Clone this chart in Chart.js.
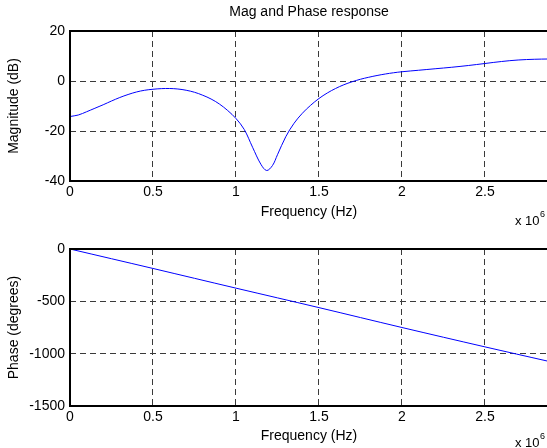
<!DOCTYPE html>
<html>
<head>
<meta charset="utf-8">
<title>Mag and Phase response</title>
<script src="https://cdn.jsdelivr.net/npm/chart.js@4.4.1/dist/chart.umd.min.js"></script>
<style>
  html, body { margin: 0; padding: 0; background: #fff; overflow: hidden; }
  #wrap { position: relative; width: 547px; height: 448px; overflow: hidden; background: #fff; }
  #wrap canvas { position: absolute; left: 0; }
  #magChart { top: 0; }
  #phaseChart { top: 232px; }
</style>
</head>
<body>
<div id="wrap">
  <canvas id="magChart" width="550" height="232"></canvas>
  <canvas id="phaseChart" width="550" height="216"></canvas>
</div>
<script>
// Frequency axis values are in units of 10^6 Hz
const freqMag = [0, 0.05, 0.1, 0.15, 0.2, 0.25, 0.3, 0.35, 0.4, 0.45, 0.5, 0.55, 0.6, 0.65, 0.7,
                 0.75, 0.8, 0.85, 0.9, 0.95, 1.0, 1.05, 1.1, 1.15, 1.185, 1.22, 1.25, 1.3, 1.35,
                 1.4, 1.45, 1.5, 1.55, 1.6, 1.65, 1.7, 1.75, 1.8, 1.85, 1.9, 1.95, 2.0, 2.1, 2.2,
                 2.3, 2.4, 2.5, 2.6, 2.7, 2.8, 2.88];
const magDb   = [-14.2, -13.6, -12.3, -10.9, -9.5, -8.0, -6.6, -5.4, -4.4, -3.7, -3.3, -3.05, -3.0, -3.2, -3.7,
                 -4.5, -5.7, -7.2, -9.2, -11.8, -15.0, -19.4, -26.5, -33.3, -35.8, -33.8, -29.5, -22.3, -16.9,
                 -12.9, -9.7, -7.0, -4.8, -3.0, -1.5, -0.3, 0.7, 1.5, 2.2, 2.8, 3.3, 3.7, 4.3, 4.9,
                 5.5, 6.2, 7.0, 7.8, 8.4, 8.7, 8.8];

const freqPhase = [0, 0.5, 1.0, 1.5, 2.0, 2.5, 2.88];
const phaseDeg  = [0, -186, -374, -560, -750, -935, -1072];

const freqTicks  = [0, 0.5, 1, 1.5, 2, 2.5];
const magTicks   = [-40, -20, 0, 20];
const phaseTicks = [-1500, -1000, -500, 0];

const FONT = '"Liberation Sans", Arial, Helvetica, sans-serif';
const GRID = '#3a3a3a';
const FREQ_MAX = 2.88;

function toPoints(xs, ys) {
  return xs.map((x, i) => ({ x: x, y: ys[i] }));
}

function freqAxis(axisHeight, titlePadBottom) {
  return {
    type: 'linear',
    min: 0,
    max: FREQ_MAX,
    afterBuildTicks: s => { s.ticks = freqTicks.map(v => ({ value: v })); },
    ticks: {
      callback: v => String(v),
      color: '#000',
      font: { family: FONT, size: 14 },
      padding: 3,
      maxRotation: 0,
      autoSkip: false
    },
    grid: { color: GRID, lineWidth: 1, drawTicks: false },
    border: { display: false, dash: [6, 4] },
    title: {
      display: true,
      text: 'Frequency (Hz)',
      color: '#000',
      font: { family: FONT, size: 14 },
      padding: { top: 0, bottom: titlePadBottom }
    },
    afterFit: s => { s.height = axisHeight; s.paddingLeft = 0; s.paddingRight = 0; }
  };
}

function valueAxis(min, max, tickValues, label) {
  return {
    type: 'linear',
    min: min,
    max: max,
    afterBuildTicks: s => { s.ticks = tickValues.map(v => ({ value: v })); },
    ticks: {
      callback: v => String(v),
      color: '#000',
      font: { family: FONT, size: 14 },
      padding: 5
    },
    grid: { color: GRID, lineWidth: 1, drawTicks: false },
    border: { display: false, dash: [6, 4] },
    title: {
      display: true,
      text: label,
      color: '#000',
      font: { family: FONT, size: 14 },
      padding: { top: 6, bottom: 0 }
    },
    afterFit: s => { s.width = 70; s.paddingTop = 0; s.paddingBottom = 0; }
  };
}

// Axes box, plot title and the x10^6 multiplier
function decorations(opts) {
  return {
    id: 'decorations',
    afterDraw(chart) {
      const ctx = chart.ctx;
      const a = chart.chartArea;
      ctx.save();
      ctx.strokeStyle = '#000';
      ctx.lineWidth = 2;
      ctx.strokeRect(a.left, a.top, a.right - a.left, a.bottom - a.top);
      ctx.fillStyle = '#000';
      if (opts.title) {
        ctx.font = '14px ' + FONT;
        ctx.textAlign = 'center';
        ctx.textBaseline = 'middle';
        ctx.fillText(opts.title, (a.left + a.right) / 2, opts.titleY);
      }
      ctx.textAlign = 'left';
      ctx.textBaseline = 'alphabetic';
      ctx.font = '13px ' + FONT;
      ctx.fillText('x 10', 515, opts.expY);
      const w = ctx.measureText('x 10').width;
      ctx.font = '9px ' + FONT;
      ctx.fillText('6', 515 + w + 0.5, opts.expY - 8);
      ctx.restore();
    }
  };
}

function lineDataset(xs, ys) {
  return {
    data: toPoints(xs, ys),
    borderColor: '#0000ff',
    borderWidth: 1,
    pointRadius: 0,
    fill: false,
    tension: 0.35
  };
}

const common = {
  responsive: false,
  animation: false,
  devicePixelRatio: 1,
  parsing: false,
  plugins: { legend: { display: false }, tooltip: { enabled: false }, title: { display: false } }
};

new Chart(document.getElementById('magChart'), {
  type: 'line',
  data: { datasets: [lineDataset(freqMag, magDb)] },
  options: Object.assign({}, common, {
    layout: { padding: { top: 31, left: 0, right: 2, bottom: 0 } },
    scales: {
      x: freqAxis(51, 11),
      y: valueAxis(-40, 20, magTicks, 'Magnitude (dB)')
    }
  }),
  plugins: [decorations({ title: 'Mag and Phase response', titleY: 12.5, expY: 225 })]
});

new Chart(document.getElementById('phaseChart'), {
  type: 'line',
  data: { datasets: [lineDataset(freqPhase, phaseDeg)] },
  options: Object.assign({}, common, {
    layout: { padding: { top: 17, left: 0, right: 2, bottom: 0 } },
    scales: {
      x: freqAxis(42, 3),
      y: valueAxis(-1500, 0, phaseTicks, 'Phase (degrees)')
    }
  }),
  plugins: [decorations({ title: null, expY: 215 })]
});
</script>
</body>
</html>
